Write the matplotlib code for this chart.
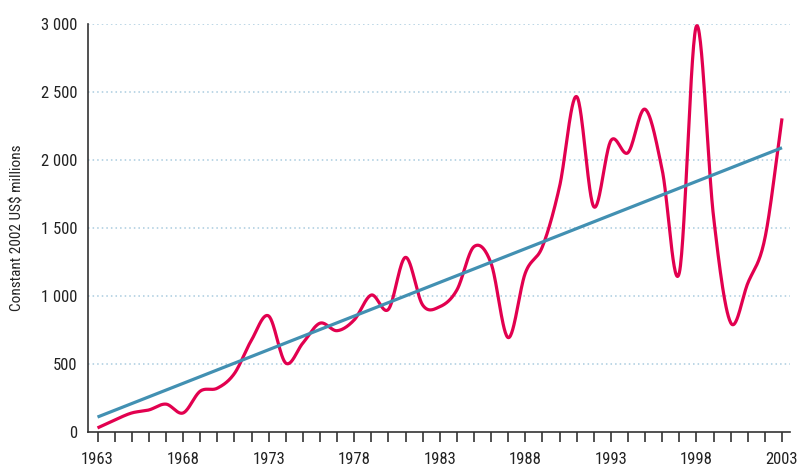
import numpy as np
import matplotlib
matplotlib.use("Agg")
import matplotlib.pyplot as plt
from matplotlib.ticker import FuncFormatter, MultipleLocator

plt.rcParams['font.family'] = ['Roboto Condensed', 'Liberation Sans Narrow', 'DejaVu Sans']

years = list(range(1963, 2004))
aid = [30, 88, 140, 162, 205, 140, 300, 322, 430, 676,
       853, 507, 654, 800, 745, 824, 1007, 902, 1284, 934,
       921, 1044, 1363, 1240, 694, 1169, 1363, 1804, 2466, 1657,
       2142, 2054, 2373, 1926, 1171, 2985, 1583, 804, 1094, 1424,
       2306]
trend_start, trend_end = 110, 2090

y_ticks = [0, 500, 1000, 1500, 2000, 2500, 3000]
x_label_years = [1963, 1968, 1973, 1978, 1983, 1988, 1993, 1998, 2003]
y_title = "Constant 2002 US$ millions"

RED = "#e2004f"
BLUE = "#4290b2"
GRID = "#a9cbdf"
TEXT = "#222222"


def catmull_rom(x, y, n=30):
    x = np.asarray(x, float)
    y = np.asarray(y, float)
    px = np.concatenate([[2 * x[0] - x[1]], x, [2 * x[-1] - x[-2]]])
    py = np.concatenate([[2 * y[0] - y[1]], y, [2 * y[-1] - y[-2]]])
    xs, ys = [], []
    t = np.linspace(0, 1, n, endpoint=False)
    for i in range(1, len(px) - 2):
        for P, out in ((px[i - 1:i + 3], xs), (py[i - 1:i + 3], ys)):
            a, b, c, d = P
            out.append(0.5 * ((2 * b) + (-a + c) * t
                              + (2 * a - 5 * b + 4 * c - d) * t ** 2
                              + (-a + 3 * b - 3 * c + d) * t ** 3))
    xs.append([x[-1]])
    ys.append([y[-1]])
    return np.concatenate(xs), np.concatenate(ys)


fig = plt.figure(figsize=(7.99, 4.67), dpi=100)
ax = fig.add_axes([88 / 799, 35 / 467, (790 - 88) / 799, (432 - 24) / 467])

sx, sy = catmull_rom(years, aid)
ax.plot(sx, sy, color=RED, lw=2.3, solid_capstyle='butt', zorder=3)
ax.plot([years[0], years[-1]], [trend_start, trend_end], color=BLUE, lw=2.3,
        solid_capstyle='butt', zorder=4)

for v in y_ticks[1:]:
    ax.axhline(v, color=GRID, lw=1.1, ls=(0, (1, 2)), zorder=1)

ax.set_ylim(0, 3000)
ax.set_xlim(1963 - 9.5 / 17.11, 2003 + 8 / 17.11)

ax.set_yticks(y_ticks)
ax.yaxis.set_major_formatter(FuncFormatter(lambda v, p: f"{int(v):,}".replace(",", " ")))
ax.set_xticks(x_label_years)
ax.xaxis.set_minor_locator(MultipleLocator(1))
ax.set_xticklabels([str(y) for y in x_label_years])

ax.tick_params(axis='y', length=0, pad=7.5, labelsize=12, labelcolor=TEXT)
ax.tick_params(axis='x', which='both', direction='out', length=7.2, width=1.2,
               color='#333333', pad=7.5, labelsize=12, labelcolor=TEXT)

for s in ('top', 'right'):
    ax.spines[s].set_visible(False)
for s in ('left', 'bottom'):
    ax.spines[s].set_color('#333333')
    ax.spines[s].set_linewidth(1.2)

ax.set_ylabel(y_title, fontsize=11, color=TEXT, labelpad=12)

fig.savefig("out.png", dpi=100)
